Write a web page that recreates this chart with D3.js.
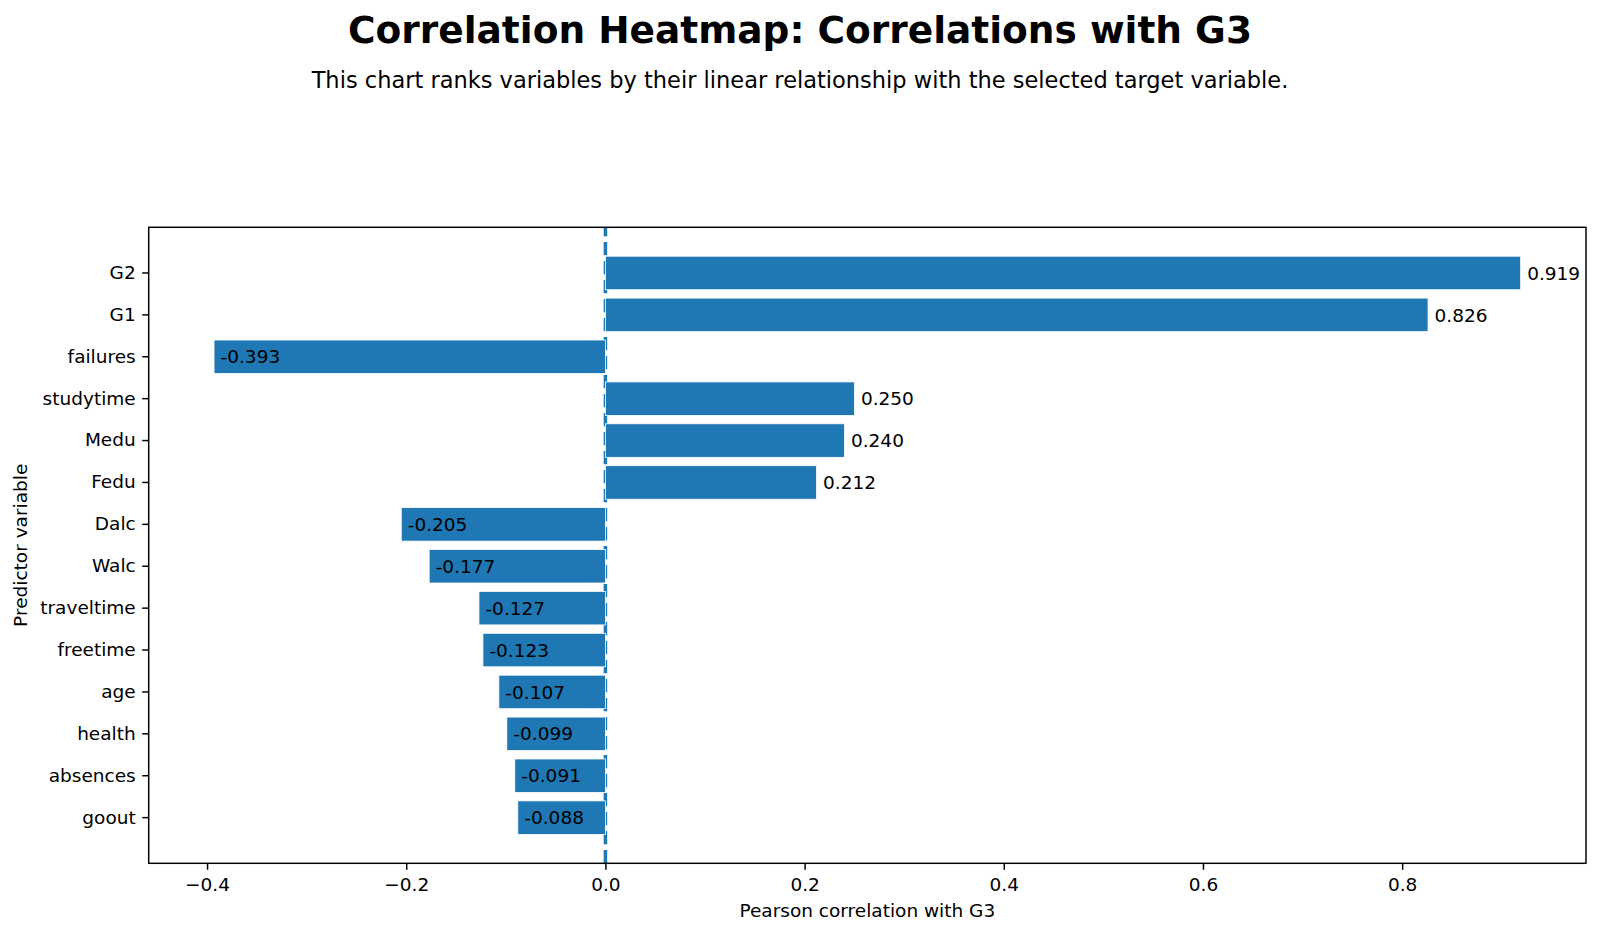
<!DOCTYPE html>
<html><head><meta charset="utf-8">
<script src="https://cdn.jsdelivr.net/npm/d3@7"></script>
<style>body{margin:0;background:#fff}svg{display:block}text{font-family:"DejaVu Sans",sans-serif}</style>
</head><body><svg id="c" width="1600" height="934"></svg>
<script>
const categories = ["G2","G1","failures","studytime","Medu","Fedu","Dalc","Walc","traveltime","freetime","age","health","absences","goout"];
const values = [0.919,0.826,-0.393,0.250,0.240,0.212,-0.205,-0.177,-0.127,-0.123,-0.107,-0.099,-0.091,-0.088];
const xTicks = [-0.4,-0.2,0.0,0.2,0.4,0.6,0.8];
const titleText = "Correlation Heatmap: Correlations with G3";
const subtitleText = "This chart ranks variables by their linear relationship with the selected target variable.";
const xLabel = "Pearson correlation with G3";
const yLabel = "Predictor variable";

const svg = d3.select("#c");
const L = 148.7, R = 1586, T = 227.3, B = 863.3;
const color = "#1f77b4";
const fs = 18.5;
const minV = d3.min(values), maxV = d3.max(values), span = maxV - minV;
const x = d3.scaleLinear().domain([minV - 0.05*span, maxV + 0.05*span]).range([L, R]);
const y = d3.scaleBand().domain(categories).range([T, B]).paddingInner(0.2).paddingOuter(0.69);

// zero dashed line (behind bars), dash starting at bottom
svg.append("line").attr("x1", x(0)).attr("x2", x(0)).attr("y1", B).attr("y2", T)
  .attr("stroke", color).attr("stroke-width", 3.5).attr("stroke-dasharray", "13.2,5.8");

const data = categories.map((c,i)=>({c, v: values[i]}));
svg.append("g").selectAll("rect").data(data).join("rect")
  .attr("x", d => x(Math.min(0, d.v))).attr("width", d => Math.abs(x(d.v) - x(0)))
  .attr("y", d => y(d.c)).attr("height", y.bandwidth())
  .attr("fill", color).attr("stroke", "#fff").attr("stroke-width", 0.8);

svg.append("g").selectAll("text").data(data).join("text")
  .attr("x", d => x(d.v) + 6.5)
  .attr("y", d => y(d.c) + y.bandwidth()/2).attr("dy", "0.36em")
  .attr("font-size", fs).attr("fill", "#000")
  .text(d => d.v.toFixed(3));

// axes
const xAxis = d3.axisBottom(x).tickValues(xTicks).tickSize(6.5).tickPadding(6.5)
  .tickFormat(d => d3.format(".1f")(d).replace("-", "\u2212"));
const gx = svg.append("g").attr("transform", `translate(0,${B})`).call(xAxis);
const yAxis = d3.axisLeft(y).tickSize(6.5).tickPadding(6.5);
const gy = svg.append("g").attr("transform", `translate(${L},0)`).call(yAxis);
[gx, gy].forEach(g => {
  g.select(".domain").remove();
  g.selectAll(".tick line").attr("stroke", "#000").attr("stroke-width", 1.48);
  g.selectAll(".tick text").attr("font-size", fs).attr("fill", "#000").style("font-family", "DejaVu Sans");
});
gx.selectAll(".tick text").attr("dy", "0.78em");

svg.append("rect").attr("x", L).attr("y", T).attr("width", R - L).attr("height", B - T)
  .attr("fill", "none").attr("stroke", "#000").attr("stroke-width", 1.48);

svg.append("text").attr("x", (L+R)/2).attr("y", 910).attr("dy", "0.36em").attr("text-anchor", "middle")
  .attr("font-size", fs).text(xLabel);
svg.append("text").attr("transform", `translate(20.5,${(T+B)/2}) rotate(-90)`).attr("dy", "0.36em")
  .attr("text-anchor", "middle").attr("font-size", fs).text(yLabel);

svg.append("text").attr("x", 800).attr("y", 29).attr("dy", "0.36em").attr("text-anchor", "middle")
  .attr("font-size", 37.5).attr("font-weight", "bold").text(titleText);
svg.append("text").attr("x", 800).attr("y", 80).attr("dy", "0.36em").attr("text-anchor", "middle")
  .attr("font-size", 22.5).text(subtitleText);
</script></body></html>
